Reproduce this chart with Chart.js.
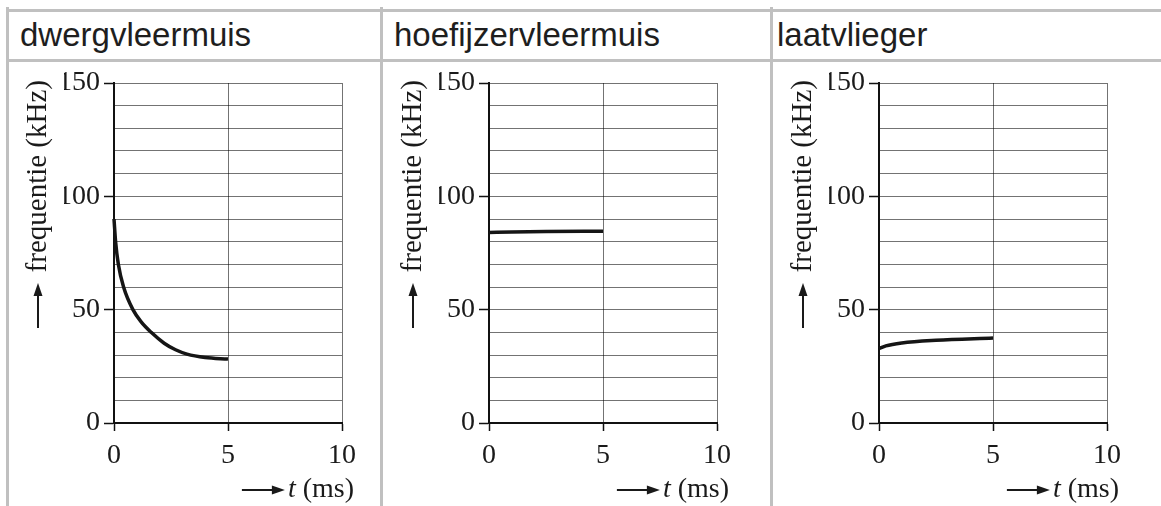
<!DOCTYPE html>
<html>
<head>
<meta charset="utf-8">
<script src="https://cdn.jsdelivr.net/npm/chart.js"></script>
<style>
body { margin: 0; background: #fff; }
#blad { position: relative; width: 1161px; height: 506px; overflow: hidden; }
.lijn { position: absolute; background: #c0c0c0; }
.kop { position: absolute; top: 16px; font: 33px "Liberation Sans", Arial, sans-serif; line-height: 38px; color: #1e1e1e; white-space: nowrap; }
canvas.grafiek { position: absolute; top: 61px; }
</style>
</head>
<body>
<div id="blad">
  <div class="lijn" style="left:6px;top:9px;width:1155px;height:3px"></div>
  <div class="lijn" style="left:6px;top:59px;width:1155px;height:3px"></div>
  <div class="lijn" style="left:6px;top:7px;width:3px;height:499px"></div>
  <div class="lijn" style="left:380px;top:7px;width:3px;height:499px"></div>
  <div class="lijn" style="left:770px;top:7px;width:3px;height:499px"></div>

  <div class="kop" style="left:20px">dwergvleermuis</div>
  <div class="kop" style="left:394px">hoefijzervleermuis</div>
  <div class="kop" style="left:777px">laatvlieger</div>

  <canvas class="grafiek" id="graf1" width="370" height="445" style="left:9px"></canvas>
  <canvas class="grafiek" id="graf2" width="370" height="445" style="left:384px"></canvas>
  <canvas class="grafiek" id="graf3" width="370" height="445" style="left:774px"></canvas>
</div>

<script>
// t in ms, frequentie in kHz
var soorten = ["dwergvleermuis", "hoefijzervleermuis", "laatvlieger"];

var tijd1 = [0, 0.07, 0.19, 0.42, 0.83, 1.2, 1.63, 2.2, 2.7, 3.2, 4, 5];
var freq1 = [90, 80, 70, 60, 50, 44.5, 40, 35.2, 32.3, 30.4, 28.9, 28.2];

var tijd2 = [0, 1, 2.5, 5];
var freq2 = [84, 84.3, 84.5, 84.6];

var tijd3 = [0, 0.3, 1, 2.5, 5];
var freq3 = [32.8, 34, 35.3, 36.5, 37.5];

var yTicks = [0, 50, 100, 150];
var xTicks = [0, 5, 10];

var serif = '"Liberation Serif", "Times New Roman", serif';

function punten(tijd, freq) {
  return tijd.map(function (t, i) { return { x: t, y: freq[i] }; });
}

function pijl(ctx, x1, y1, x2, y2) {
  var hoek = Math.atan2(y2 - y1, x2 - x1);
  ctx.beginPath();
  ctx.moveTo(x1, y1);
  ctx.lineTo(x2 - 10 * Math.cos(hoek), y2 - 10 * Math.sin(hoek));
  ctx.lineWidth = 2;
  ctx.stroke();
  ctx.beginPath();
  ctx.moveTo(x2, y2);
  ctx.lineTo(x2 - 13 * Math.cos(hoek) + 4.5 * Math.sin(hoek), y2 - 13 * Math.sin(hoek) - 4.5 * Math.cos(hoek));
  ctx.lineTo(x2 - 13 * Math.cos(hoek) - 4.5 * Math.sin(hoek), y2 - 13 * Math.sin(hoek) + 4.5 * Math.cos(hoek));
  ctx.closePath();
  ctx.fill();
}

// astitels met pijlen
var asTitels = {
  id: 'asTitels',
  afterDraw: function (chart) {
    var ctx = chart.ctx;
    var ca = chart.chartArea;
    ctx.save();
    ctx.fillStyle = '#1a1a1a';
    ctx.strokeStyle = '#1a1a1a';

    // y-as
    var xt = ca.left - 76;
    pijl(ctx, xt, ca.top + 245, xt, ca.top + 200);
    ctx.save();
    ctx.translate(xt, ca.top - 3);
    ctx.rotate(-Math.PI / 2);
    ctx.font = '29px ' + serif;
    ctx.textAlign = 'right';
    ctx.textBaseline = 'middle';
    ctx.fillText('frequentie (kHz)', 0, 0);
    ctx.restore();

    // x-as
    var yt = ca.bottom + 67;
    var rechts = ca.right + 12;
    ctx.font = '28px ' + serif;
    ctx.textAlign = 'right';
    ctx.textBaseline = 'middle';
    ctx.fillText(' (ms)', rechts, yt);
    var w = ctx.measureText(' (ms)').width;
    ctx.font = 'italic 28px ' + serif;
    ctx.fillText('t', rechts - w, yt);
    var wt = ctx.measureText('t').width;
    var eind = rechts - w - wt - 3;
    pijl(ctx, eind - 43, yt, eind, yt);
    ctx.restore();
  }
};

function printGrafiek(id, tijd, freq) {
  var canvas = document.getElementById(id);
  return new Chart(canvas, {
    type: 'line',
    data: {
      datasets: [{
        label: soorten[0],
        data: punten(tijd, freq),
        borderColor: '#151515',
        borderWidth: 3.5,
        pointRadius: 0,
        cubicInterpolationMode: 'monotone',
        fill: false,
        clip: false
      }]
    },
    options: {
      responsive: false,
      animation: false,
      devicePixelRatio: 1,
      layout: { padding: { left: 55, top: 22, right: 37, bottom: 0 } },
      plugins: { legend: { display: false }, tooltip: { enabled: false } },
      scales: {
        x: {
          type: 'linear',
          min: 0,
          max: 10,
          afterFit: function (s) { s.height = 83; },
          afterBuildTicks: function (s) { s.ticks = xTicks.map(function (v) { return { value: v }; }); },
          grid: { color: 'rgba(0,0,0,0.55)', lineWidth: 1, tickColor: '#111', tickWidth: 1.5, tickLength: 8 },
          border: { color: '#111', width: 2 },
          ticks: { color: '#1a1a1a', font: { family: serif, size: 28 }, padding: 8, maxRotation: 0, autoSkip: false }
        },
        y: {
          type: 'linear',
          min: 0,
          max: 150,
          afterFit: function (s) { s.width = 50; },
          ticks: {
            stepSize: 10,
            autoSkip: false,
            color: '#1a1a1a',
            font: { family: serif, size: 28 },
            padding: 4,
            callback: function (v) { return yTicks.indexOf(v) >= 0 ? String(v) : ''; }
          },
          grid: {
            color: 'rgba(0,0,0,0.55)',
            lineWidth: 1,
            tickLength: 10,
            tickWidth: 1.5,
            tickColor: function (c) { return c.tick && yTicks.indexOf(c.tick.value) >= 0 ? '#111' : 'rgba(0,0,0,0)'; }
          },
          border: { color: '#111', width: 2 }
        }
      }
    },
    plugins: [asTitels]
  });
}

printGrafiek('graf1', tijd1, freq1);
printGrafiek('graf2', tijd2, freq2);
printGrafiek('graf3', tijd3, freq3);
</script>
</body>
</html>
